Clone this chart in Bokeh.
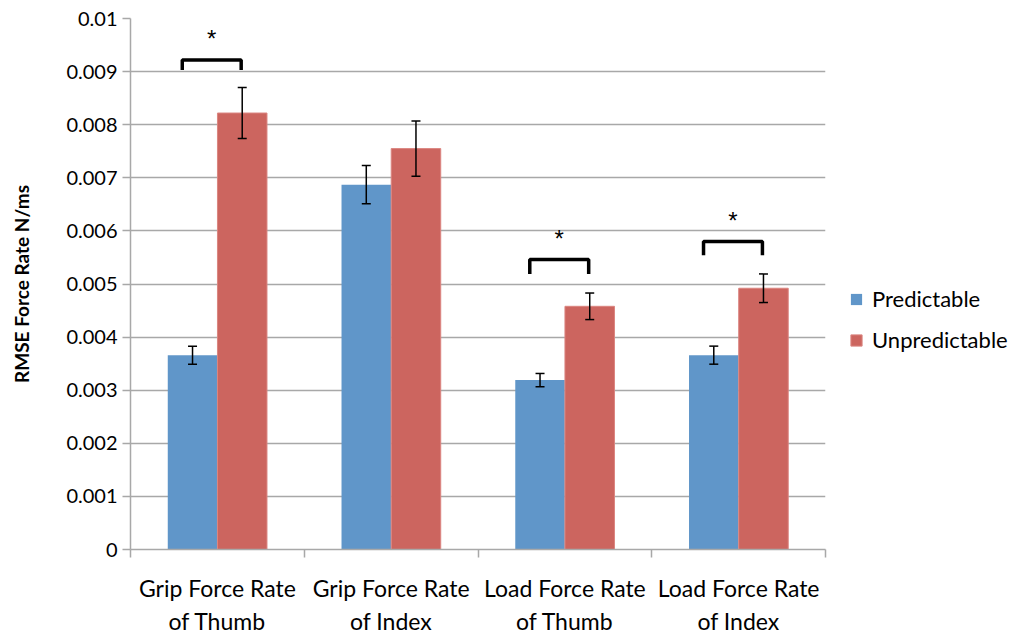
from bokeh.plotting import figure
from bokeh.models import ColumnDataSource, Whisker, TeeHead, FixedTicker, Legend, LegendItem
from bokeh.embed import file_html
from bokeh.resources import INLINE

# data
categories = ["Grip Force Rate\nof Thumb", "Grip Force Rate\nof Index",
              "Load Force Rate\nof Thumb", "Load Force Rate\nof Index"]
predictable = [0.00366, 0.00687, 0.00319, 0.00366]
predictable_err = [0.00017, 0.00036, 0.000125, 0.00017]
unpredictable = [0.00822, 0.00755, 0.00458, 0.00492]
unpredictable_err = [0.00048, 0.00052, 0.00025, 0.00027]

# significance brackets: category index, bracket top, leg bottom
sig_groups = [0, 2, 3]
sig_top = [0.00922, 0.00546, 0.00580]
sig_leg = [0.00903, 0.00519, 0.00554]

y_ticks = [0, 0.001, 0.002, 0.003, 0.004, 0.005, 0.006, 0.007, 0.008, 0.009, 0.01]
y_labels = ["0", "0.001", "0.002", "0.003", "0.004", "0.005", "0.006", "0.007", "0.008", "0.009", "0.01"]

BLUE = "#6096C9"
RED = "#CC655F"
FONT = "Lato"
GRID = "#A8A8A8"

off = 0.143
bw = 0.285
centers = [i + 0.5 for i in range(len(categories))]

src_p = ColumnDataSource(dict(
    x=[c - off for c in centers], top=predictable,
    upper=[v + e for v, e in zip(predictable, predictable_err)],
    lower=[v - e for v, e in zip(predictable, predictable_err)]))
src_u = ColumnDataSource(dict(
    x=[c + off for c in centers], top=unpredictable,
    upper=[v + e for v, e in zip(unpredictable, unpredictable_err)],
    lower=[v - e for v, e in zip(unpredictable, unpredictable_err)]))

p = figure(frame_width=695, frame_height=531, x_range=(0, 4), y_range=(0, 0.01),
           output_backend="svg", toolbar_location=None,
           min_border_left=130, min_border_right=191,
           min_border_top=18, min_border_bottom=79)
p.outline_line_color = None
p.background_fill_color = "white"

r_p = p.vbar(x="x", top="top", width=bw, source=src_p, fill_color=BLUE, line_color=None)
r_u = p.vbar(x="x", top="top", width=bw, source=src_u, fill_color=RED, line_color="#DB8580", line_width=1)

for src in (src_p, src_u):
    w = Whisker(source=src, base="x", upper="upper", lower="lower", level="overlay",
                line_color="black", line_width=1.5,
                upper_head=TeeHead(size=9, line_color="black", line_width=1.5),
                lower_head=TeeHead(size=9, line_color="black", line_width=1.5))
    p.add_layout(w)

# brackets and stars
xs, ys, sx, sy = [], [], [], []
for g, t, l in zip(sig_groups, sig_top, sig_leg):
    x0 = g + 0.298
    x1 = g + 0.637
    xs.append([x0, x0, x1, x1])
    ys.append([l, t, t, l])
    sx.append((x0 + x1) / 2)
    sy.append(t + 0.00040)
p.multi_line(xs=xs, ys=ys, line_color="black", line_width=3.5)
p.text(x=sx, y=sy, text=["*"] * len(sx), text_align="center", text_baseline="middle",
       text_font_size="24px", text_color="black")

# y axis
p.yaxis.ticker = FixedTicker(ticks=y_ticks)
p.yaxis.major_label_overrides = dict(zip(y_ticks, y_labels))
p.yaxis.axis_line_color = GRID
p.yaxis.axis_line_width = 1.5
p.yaxis.major_tick_line_color = GRID
p.yaxis.major_tick_line_width = 1.5
p.yaxis.major_tick_out = 8
p.yaxis.major_tick_in = 0
p.yaxis.minor_tick_line_color = None
p.yaxis.major_label_text_font = FONT
p.yaxis.major_label_text_font_size = "20px"
p.yaxis.major_label_text_color = "black"
p.yaxis.major_label_standoff = 5
p.yaxis.axis_label = "RMSE Force Rate N/ms"
p.yaxis.axis_label_text_font = FONT
p.yaxis.axis_label_text_font_style = "bold"
p.yaxis.axis_label_text_font_size = "19px"
p.yaxis.axis_label_text_color = "black"
p.yaxis.axis_label_standoff = 30

p.ygrid.ticker = FixedTicker(ticks=y_ticks)
p.ygrid.grid_line_color = GRID
p.ygrid.grid_line_width = 1.5
p.xgrid.grid_line_color = None

# x axis: labels at centers, tick marks at category boundaries
p.xaxis.ticker = FixedTicker(ticks=centers, minor_ticks=list(range(len(categories) + 1)))
p.xaxis.major_label_overrides = dict(zip(centers, categories))
p.xaxis.axis_line_color = GRID
p.xaxis.axis_line_width = 1.5
p.xaxis.major_tick_line_color = None
p.xaxis.minor_tick_line_color = GRID
p.xaxis.minor_tick_line_width = 1.5
p.xaxis.minor_tick_out = 8
p.xaxis.minor_tick_in = 0
p.xaxis.major_label_text_font = FONT
p.xaxis.major_label_text_font_size = "23px"
p.xaxis.major_label_text_color = "black"
p.xaxis.major_label_standoff = 16

legend = Legend(items=[LegendItem(label="Predictable", renderers=[r_p]),
                       LegendItem(label="Unpredictable", renderers=[r_u])],
                location=(24, 196))
legend.glyph_width = 14
legend.glyph_height = 14
legend.label_text_font = FONT
legend.label_text_font_size = "22px"
legend.label_text_color = "black"
legend.label_standoff = 9
legend.spacing = 14
legend.border_line_color = None
legend.background_fill_alpha = 0
legend.padding = 0
legend.margin = 0
p.add_layout(legend, "right")

open("out.html", "w").write(file_html(p, INLINE))
